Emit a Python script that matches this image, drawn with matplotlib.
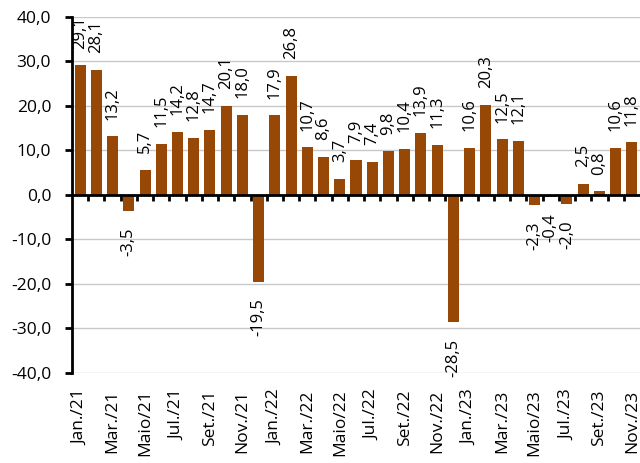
import matplotlib
matplotlib.use("Agg")
import matplotlib.pyplot as plt
from matplotlib.ticker import FuncFormatter, MultipleLocator

plt.rcParams['font.family'] = ['Open Sans', 'DejaVu Sans']
plt.rcParams['axes.unicode_minus'] = False

meses = ['Jan.', 'Fev.', 'Mar.', 'Abr.', 'Maio', 'Jun.', 'Jul.', 'Ago.', 'Set.', 'Out.', 'Nov.', 'Dez.']
anos = ['21', '22', '23']
categorias = [m + '/' + a for a in anos for m in meses][:35]

variacao = [29.1, 28.1, 13.2, -3.5, 5.7, 11.5, 14.2, 12.8, 14.7, 20.1, 18.0, -19.5,
            17.9, 26.8, 10.7, 8.6, 3.7, 7.9, 7.4, 9.8, 10.4, 13.9, 11.3, -28.5,
            10.6, 20.3, 12.5, 12.1, -2.3, -0.4, -2.0, 2.5, 0.8, 10.6, 11.8]

cor = '#974706'
fmt = lambda v: f'{v:.1f}'.replace('.', ',')

fig = plt.figure(figsize=(6.4, 4.63), dpi=100)
ax = fig.add_axes([0.1125, 0.1944, 0.8875, 0.7689])

x = list(range(len(variacao)))
ax.bar(x, variacao, width=0.68, color=cor, zorder=2)

for xi, v in zip(x, variacao):
    off = 12 if v >= 0 else -12
    ax.annotate(fmt(v), (xi, v), xytext=(0, off), textcoords='offset points',
                rotation=90, ha='center', va='bottom' if v >= 0 else 'top',
                fontsize=12, color='black', annotation_clip=False)

ax.set_xlim(-0.5, len(variacao) - 0.5)
ax.set_ylim(-40, 40)
ax.yaxis.set_major_locator(MultipleLocator(10))
ax.yaxis.set_major_formatter(FuncFormatter(lambda v, p: fmt(v)))
ax.tick_params(axis='y', labelsize=12.5, length=5, width=2, pad=10, direction='out')
ax.grid(axis='y', color='#c8c8c8', linewidth=1, zorder=0)

for s in ['top', 'right']:
    ax.spines[s].set_visible(False)
ax.spines['left'].set_linewidth(2)
ax.spines['bottom'].set_position(('data', 0))
ax.spines['bottom'].set_linewidth(2)
ax.spines['bottom'].set_zorder(3)

# marcas de categoria no eixo zero, sem rótulos
ax.set_xticks([i + 0.5 for i in x[:-1]])
ax.tick_params(axis='x', length=4, width=2, labelbottom=False, direction='out')

# rótulos dos meses na base do gráfico
sec = ax.secondary_xaxis(0.0)
sec.set_xticks(x[::2])
sec.set_xticklabels(categorias[::2], rotation=90, fontsize=12.5)
sec.tick_params(length=0, pad=12)
sec.spines['bottom'].set_visible(False)

fig.savefig('out.png', dpi=100)
